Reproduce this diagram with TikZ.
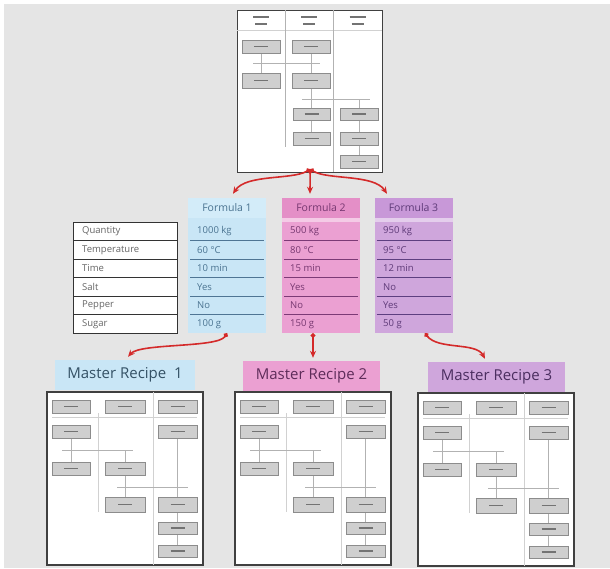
\documentclass[tikz,border=0pt]{standalone}
\usepackage{fontspec}
\setmainfont{Open Sans}
\usetikzlibrary{arrows.meta}
\definecolor{bgc}{HTML}{E5E5E5}
\definecolor{fa}{HTML}{C9E6F6}
\definecolor{fah}{HTML}{D3ECF9}
\definecolor{fal}{HTML}{4F7594}
\definecolor{fat}{HTML}{4A7390}
\definecolor{fb}{HTML}{EBA0D2}
\definecolor{fbh}{HTML}{E48FC7}
\definecolor{fbl}{HTML}{7C3A76}
\definecolor{fbt}{HTML}{763770}
\definecolor{fc}{HTML}{CFA6DC}
\definecolor{fch}{HTML}{C898D8}
\definecolor{fcl}{HTML}{5D3F80}
\definecolor{fct}{HTML}{5E3A78}
\definecolor{arr}{HTML}{D42A2A}
\definecolor{tgray}{HTML}{CFCFCF}
\tikzset{
  tbox/.style={draw=black!45, fill=tgray, line width=0.6pt},
  tmark/.style={draw=black!55, line width=1.1pt},
  link/.style={draw=black!30, line width=0.5pt},
  faint/.style={draw=black!18, line width=0.6pt},
  frame/.style={draw=black!75, line width=1.3pt},
  fcolbox/.style={minimum width=78pt, minimum height=111pt, inner sep=0pt},
  fhead/.style={minimum width=78pt, minimum height=20pt, inner sep=0pt, font=\fontsize{10.5}{12}\selectfont},
  ftext/.style={anchor=west, inner sep=0pt, font=\fontsize{9.5}{11}\selectfont},
  mrlabel/.style={minimum height=30pt, inner sep=0pt, font=\fontsize{15}{18}\selectfont},
  conn/.style={draw=arr, line width=1.6pt, {Circle[length=4.5pt]}-{Stealth[length=7pt,width=6pt]}},
}
\newcommand\tb[4]{%
  \draw[tbox] (#1,#2) rectangle (#3,#4);
  \draw[tmark] ({(#1+#3)/2-7},{(#2+#4)/2}) -- ({(#1+#3)/2+7},{(#2+#4)/2});}
\newcommand\mrthumb[2]{%
\begin{scope}[shift={(#1,#2)}]
  \draw[frame, fill=white] (0,0) rectangle (156,173);
  \draw[faint] (5,25) -- (150,25);
  \draw[faint] (51,21) -- (51,120);
  \draw[faint] (106,0) -- (106,173);
  \draw[link] (24,46) -- (24,70) (15,58) -- (86,58) (78,58) -- (78,70);
  \draw[link] (78,83) -- (78,105) (70,95) -- (141,95) (130.5,46) -- (130.5,153);
  \tb{5}{8}{43}{21}\tb{58}{8}{98}{21}\tb{111}{8}{150}{21}
  \tb{5}{33}{43}{46}\tb{111}{33}{150}{46}
  \tb{5}{70}{43}{83}\tb{58}{70}{98}{83}
  \tb{58}{105}{98}{120}\tb{111}{105}{150}{120}
  \tb{111}{130}{150}{142}
  \tb{111}{153}{150}{165}
\end{scope}}
\begin{document}
\begin{tikzpicture}[x=1pt,y=-1pt]
\useasboundingbox (0,0) rectangle (610,568);
\fill[white] (0,0) rectangle (610,568);
\fill[bgc] (4,4) rectangle (610,568);

% ---- top thumbnail
\node[frame, fill=white, minimum width=145pt, minimum height=162pt, inner sep=0pt, anchor=north west] (topthumb) at (237,10) {};
\draw[faint] (237,30) -- (382,30);
\draw[link] (285,10) -- (285,147);
\draw[link] (333,10) -- (333,172);
\foreach \cx in {261,309,357.5}{
  \draw[tmark] (\cx-8,17) -- (\cx+8,17);
  \draw[tmark] (\cx-6,24) -- (\cx+6,24);
}
\draw[link] (261,53) -- (261,73) (253,63) -- (320,63) (311,53) -- (311,73);
\draw[link] (311,88) -- (311,108) (302,99) -- (370,99) (359,99) -- (359,155) (311,120) -- (311,132);
\tb{242}{40}{280}{53}\tb{242}{73}{280}{88}
\tb{292}{40}{330}{53}\tb{292}{73}{330}{88}
\tb{293}{108}{330}{120}\tb{293}{132}{330}{145}
\tb{340}{108}{378}{120}\tb{340}{132}{378}{145}\tb{340}{155}{378}{168}

% ---- label table
\node[draw=black!80, fill=white, line width=0.8pt, minimum width=104pt, minimum height=111pt, inner sep=0pt] (labels) at (125,277.5) {};
\foreach \t [count=\i] in {Quantity,Temperature,Time,Salt,Pepper,Sugar}{
  \node[ftext, text=black!60] (lab\i) at (82,{222+18.5*(\i-0.5)}) {\t};
}
\foreach \i in {1,...,5}{
  \draw[black!80, line width=0.8pt] (73,{222+18.5*\i}) -- (177,{222+18.5*\i});
}

% ---- formula columns
\node[fcolbox, fill=fa] (f1col) at (227,277.5) {};
\node[fhead, fill=fah, text=fat] (f1h) at (227,208) {Formula 1};
\node[fcolbox, fill=fb] (f2col) at (321,277.5) {};
\node[fhead, fill=fbh, text=fbt] (f2h) at (321,208) {Formula 2};
\node[fcolbox, fill=fc] (f3col) at (413.5,277.5) {};
\node[fhead, fill=fch, text=fct] (f3h) at (413.5,208) {Formula 3};
\fill[fa] (188,218) rectangle (266,222);
\fill[fb!55!white] (282,218) rectangle (360,222);
\fill[fc!55!white] (374.5,218) rectangle (452.5,222);

\foreach \v [count=\i] in {1000 kg,60 °C,10 min,Yes,No,100 g}{
  \node[ftext, text=fat] (fa\i) at (197,{222+18.5*(\i-0.5)}) {\v};
}
\foreach \v [count=\i] in {500 kg,80 °C,15 min,Yes,No,150 g}{
  \node[ftext, text=fbt] (fb\i) at (290,{222+18.5*(\i-0.5)}) {\v};
}
\foreach \v [count=\i] in {950 kg,95 °C,12 min,No,Yes,50 g}{
  \node[ftext, text=fct] (fc\i) at (383,{222+18.5*(\i-0.5)}) {\v};
}
\foreach \i in {1,...,5}{
  \draw[fal, line width=0.9pt] (190,{222+18.5*\i}) -- (264,{222+18.5*\i});
  \draw[fbl, line width=0.9pt] (284,{222+18.5*\i}) -- (358,{222+18.5*\i});
  \draw[fcl, line width=0.9pt] (376.5,{222+18.5*\i}) -- (450.5,{222+18.5*\i});
}

% ---- master recipe labels
\node[mrlabel, fill=fa, text=fat!70!black, minimum width=140pt] (mr1) at (125,375) {Master Recipe\ \ 1};
\node[mrlabel, fill=fb, text=fbt!80!black, minimum width=137pt] (mr2) at (311.5,376) {Master Recipe 2};
\node[mrlabel, fill=fc, text=fct!80!black, minimum width=137pt] (mr3) at (496.5,377) {Master Recipe 3};

% ---- master recipe thumbnails
\mrthumb{47}{392}
\mrthumb{235}{392}
\mrthumb{418}{393}

% ---- connectors
\coordinate (ts) at ([yshift=4pt]topthumb.south);
\coordinate (e1) at ([xshift=6pt,yshift=4pt]f1h.north);
\coordinate (e2) at ([xshift=-11pt,yshift=4pt]f2h.north);
\coordinate (e3) at ([xshift=-26.5pt,yshift=4pt]f3h.north);
\draw[conn] (ts) .. controls (292,180) and (246,174) .. (e1);
\draw[conn] (ts) -- (e2);
\draw[conn] (ts) .. controls (328,180) and (374,174) .. (e3);

\coordinate (b1) at (f1col.south);
\coordinate (b2) at ([xshift=-8pt]f2col.south);
\coordinate (b3) at ([xshift=11.5pt]f3col.south);
\coordinate (m1) at ([xshift=3pt,yshift=3pt]mr1.north);
\coordinate (m2) at ([xshift=1.5pt,yshift=3pt]mr2.north);
\coordinate (m3) at ([xshift=-11.5pt,yshift=3pt]mr3.north);
\draw[conn] (b1) .. controls (218,348) and (140,343) .. (m1);
\draw[conn] (b2) -- (m2);
\draw[conn] (b3) .. controls (438,350) and (476,342) .. (m3);
\end{tikzpicture}
\end{document}
